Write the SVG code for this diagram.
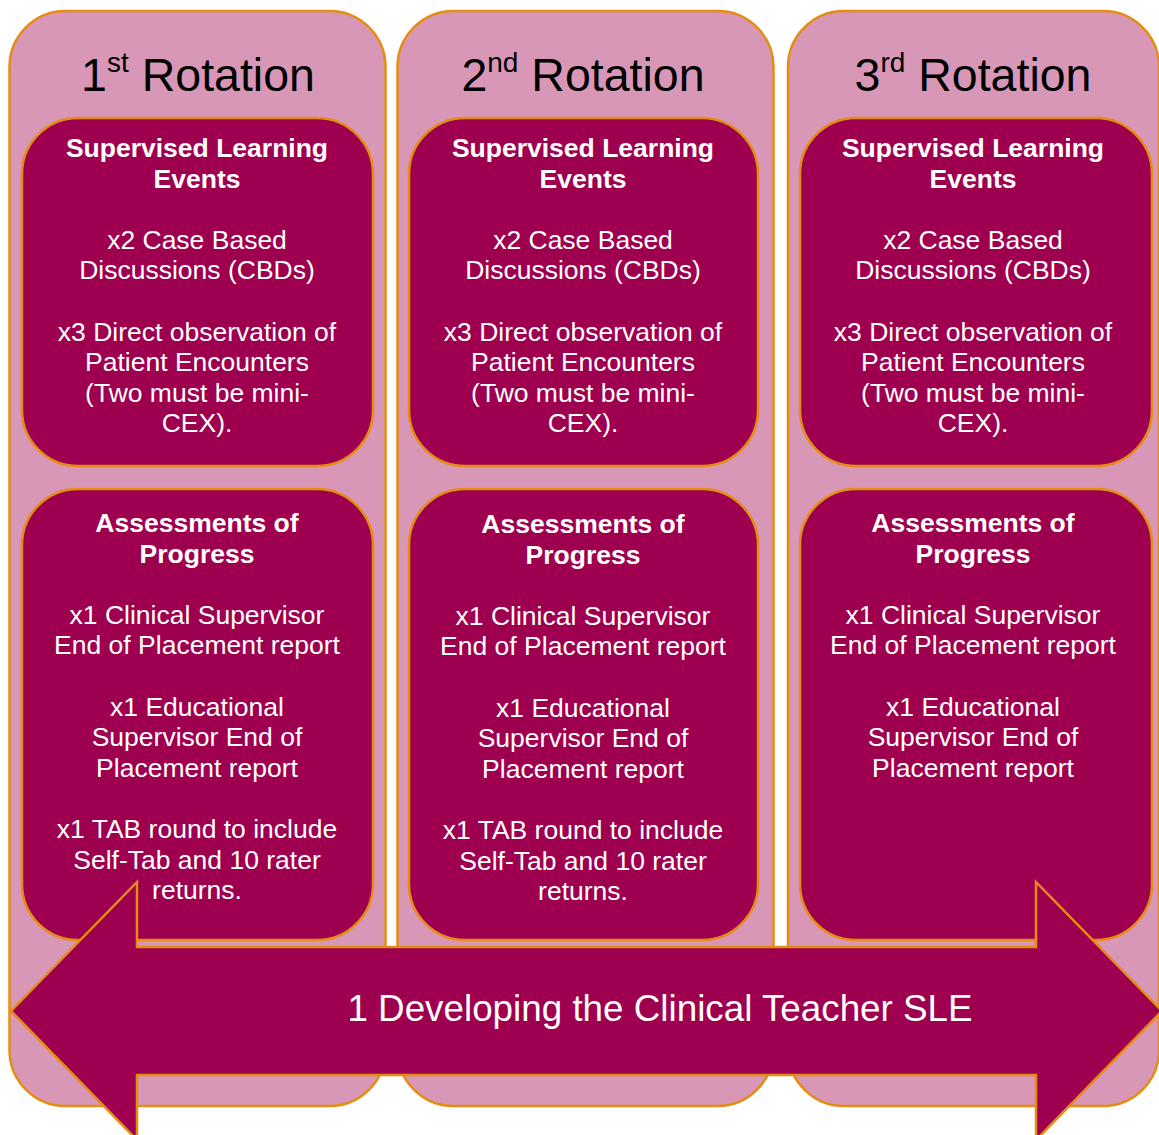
<svg xmlns="http://www.w3.org/2000/svg" width="1159" height="1135" viewBox="0 0 1159 1135">
<style>
.panel{fill:#D897B7;stroke:#E38D12;stroke-width:2.5}
.box{fill:#9E004F;stroke:#E38D12;stroke-width:2.5}
.title{font-family:"Liberation Sans",Arial,sans-serif;font-size:46.5px;fill:#000;text-anchor:middle}
.sup{font-size:28px}
.t{font-family:"Liberation Sans",Arial,sans-serif;font-size:26.5px;fill:#fff;text-anchor:middle}
.b{font-weight:bold}
.arrowtxt{font-family:"Liberation Sans",Arial,sans-serif;font-size:36.8px;fill:#fff;text-anchor:middle}
</style>
<rect width="1159" height="1135" fill="#fff"/>
<g id="rotation1">
<rect class="panel" x="9.5" y="11" width="376" height="1095" rx="56"/>
<text class="title" x="198" y="91">1<tspan class="sup" dy="-19">st</tspan><tspan dy="19"> Rotation</tspan></text>
<g id="sle1">
<rect class="box" x="22" y="118" width="351" height="348" rx="56"/>
<text class="t b" x="197"><tspan x="197" y="157">Supervised Learning</tspan><tspan x="197" y="187.6">Events</tspan></text>
<text class="t" x="197"><tspan x="197" y="248.8">x2 Case Based</tspan><tspan x="197" y="279.4">Discussions (CBDs)</tspan><tspan x="197" y="340.6">x3 Direct observation of</tspan><tspan x="197" y="371.2">Patient Encounters</tspan><tspan x="197" y="401.8">(Two must be mini-</tspan><tspan x="197" y="432.4">CEX).</tspan></text>
</g>
<g id="aop1">
<rect class="box" x="22" y="489" width="351" height="451" rx="56"/>
<text class="t b" x="197"><tspan x="197" y="532">Assessments of</tspan><tspan x="197" y="562.6">Progress</tspan></text>
<text class="t" x="197"><tspan x="197" y="623.8">x1 Clinical Supervisor</tspan><tspan x="197" y="654.4">End of Placement report</tspan><tspan x="197" y="715.6">x1 Educational</tspan><tspan x="197" y="746.2">Supervisor End of</tspan><tspan x="197" y="776.8">Placement report</tspan><tspan x="197" y="838">x1 TAB round to include</tspan><tspan x="197" y="868.6">Self-Tab and 10 rater</tspan><tspan x="197" y="899.2">returns.</tspan></text>
</g>
</g>
<g id="rotation2">
<rect class="panel" x="397.5" y="11" width="376" height="1095" rx="56"/>
<text class="title" x="583" y="91">2<tspan class="sup" dy="-19">nd</tspan><tspan dy="19"> Rotation</tspan></text>
<g id="sle2">
<rect class="box" x="409" y="118" width="349" height="348" rx="56"/>
<text class="t b" x="583"><tspan x="583" y="157">Supervised Learning</tspan><tspan x="583" y="187.6">Events</tspan></text>
<text class="t" x="583"><tspan x="583" y="248.8">x2 Case Based</tspan><tspan x="583" y="279.4">Discussions (CBDs)</tspan><tspan x="583" y="340.6">x3 Direct observation of</tspan><tspan x="583" y="371.2">Patient Encounters</tspan><tspan x="583" y="401.8">(Two must be mini-</tspan><tspan x="583" y="432.4">CEX).</tspan></text>
</g>
<g id="aop2">
<rect class="box" x="409" y="489" width="349" height="451" rx="56"/>
<text class="t b" x="583"><tspan x="583" y="533">Assessments of</tspan><tspan x="583" y="563.6">Progress</tspan></text>
<text class="t" x="583"><tspan x="583" y="624.8">x1 Clinical Supervisor</tspan><tspan x="583" y="655.4">End of Placement report</tspan><tspan x="583" y="716.6">x1 Educational</tspan><tspan x="583" y="747.2">Supervisor End of</tspan><tspan x="583" y="777.8">Placement report</tspan><tspan x="583" y="839">x1 TAB round to include</tspan><tspan x="583" y="869.6">Self-Tab and 10 rater</tspan><tspan x="583" y="900.2">returns.</tspan></text>
</g>
</g>
<g id="rotation3">
<rect class="panel" x="788" y="11" width="371" height="1095" rx="56"/>
<text class="title" x="973" y="91">3<tspan class="sup" dy="-19">rd</tspan><tspan dy="19"> Rotation</tspan></text>
<g id="sle3">
<rect class="box" x="800" y="118" width="352" height="348" rx="56"/>
<text class="t b" x="973"><tspan x="973" y="157">Supervised Learning</tspan><tspan x="973" y="187.6">Events</tspan></text>
<text class="t" x="973"><tspan x="973" y="248.8">x2 Case Based</tspan><tspan x="973" y="279.4">Discussions (CBDs)</tspan><tspan x="973" y="340.6">x3 Direct observation of</tspan><tspan x="973" y="371.2">Patient Encounters</tspan><tspan x="973" y="401.8">(Two must be mini-</tspan><tspan x="973" y="432.4">CEX).</tspan></text>
</g>
<g id="aop3">
<rect class="box" x="800" y="489" width="352" height="451" rx="56"/>
<text class="t b" x="973"><tspan x="973" y="532">Assessments of</tspan><tspan x="973" y="562.6">Progress</tspan></text>
<text class="t" x="973"><tspan x="973" y="623.8">x1 Clinical Supervisor</tspan><tspan x="973" y="654.4">End of Placement report</tspan><tspan x="973" y="715.6">x1 Educational</tspan><tspan x="973" y="746.2">Supervisor End of</tspan><tspan x="973" y="776.8">Placement report</tspan></text>
</g>
</g>
<g id="arrow">
<polygon class="box" points="11,1011 137,882 137,947 1036,947 1036,882 1162,1011 1036,1140 1036,1075 137,1075 137,1140"/>
<text class="arrowtxt" x="660" y="1021">1 Developing the Clinical Teacher SLE</text>
</g>
<g id="connectors"/>
</svg>
